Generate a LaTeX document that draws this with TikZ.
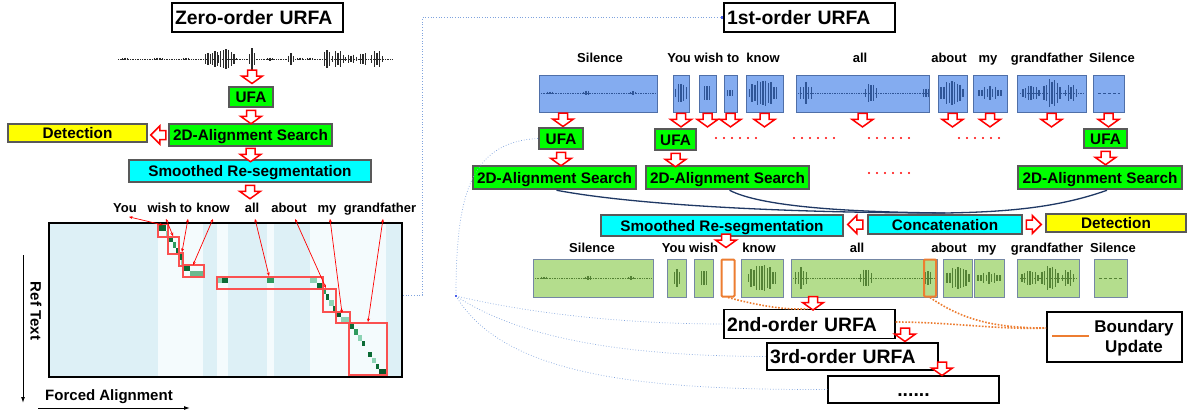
\documentclass[tikz,border=0pt]{standalone}
\usepackage{fontspec}
\setmainfont{Liberation Sans}
\usetikzlibrary{arrows.meta,calc}
\definecolor{boxgray}{HTML}{595959}
\definecolor{ufagreen}{HTML}{00FF00}
\definecolor{cyanbox}{HTML}{00FFFF}
\definecolor{yelbox}{HTML}{FFFF00}
\definecolor{wblue}{HTML}{84ACF0}
\definecolor{wblueb}{HTML}{4F6FA8}
\definecolor{wbluedark}{HTML}{2F5597}
\definecolor{wgreen}{HTML}{B4DD8D}
\definecolor{wgreenb}{HTML}{7486A4}
\definecolor{wgreendark}{HTML}{548235}
\definecolor{navy}{HTML}{1F3864}
\definecolor{dotblue}{HTML}{7FA3DE}
\definecolor{orng}{HTML}{ED7D31}
\definecolor{matbg}{HTML}{DDF0F6}
\definecolor{matlt}{HTML}{F4FBFD}
\definecolor{cdark}{HTML}{0B6B35}
\definecolor{cmed}{HTML}{2F9A5E}
\definecolor{clight}{HTML}{8CD3B4}
\definecolor{framered}{RGB}{250,80,80}
\definecolor{wavegray}{HTML}{2A2A2A}
% burst of vertical bars: #1 xc, #2 yc, #3 half width, #4 amplitude, #5 colour
\newcommand{\burst}[5]{%
  \pgfmathtruncatemacro{\nb}{max(1,round(#3/2.7))}%
  \foreach \k in {-\nb,...,\nb}{%
    \pgfmathsetmacro{\hh}{#4*(1-0.7*(\k*\k)/((\nb+0.5)*(\nb+0.5)))*(0.55+0.45*abs(sin(\k*83+#1)))}%
    \draw[#5, line width=1.5pt] ({#1+\k*2.7},{#2-\hh}) -- ({#1+\k*2.7},{#2+\hh});
  }}
\newcommand{\wline}[4]{\draw[#4, densely dotted, line width=0.7pt] (#1,#3) -- (#2,#3);}
\begin{document}
\begin{tikzpicture}[x=1pt, y=-1pt,
  proc/.style={draw=boxgray, line width=2.5pt, inner sep=0pt, text height=11pt, text depth=0pt,
    font=\fontsize{15.3}{17}\selectfont\bfseries},
  greenp/.style={proc, fill=ufagreen},
  cyanp/.style={proc, fill=cyanbox},
  yelp/.style={proc, fill=yelbox},
  titlebox/.style={draw=black, line width=1.3pt, fill=white, inner ysep=0pt, inner xsep=3pt,
    minimum height=29pt, text width=165pt, align=left, text height=14pt, text depth=0pt,
    font=\fontsize{19.4}{22}\selectfont\bfseries},
  wlabel/.style={inner sep=0pt, text height=9.3pt, text depth=0pt, font=\fontsize{13}{15}\selectfont\bfseries},
  axlabel/.style={inner sep=0pt, text height=10.8pt, text depth=0pt, font=\fontsize{15}{17}\selectfont\bfseries},
  wbox/.style={draw=wblueb, fill=wblue, line width=0.8pt, inner sep=0pt},
  gbox/.style={draw=wgreenb, fill=wgreen, line width=0.8pt, inner sep=0pt},
  obox/.style={draw=orng, line width=2pt, rounded corners=1pt, inner sep=0pt},
  harrow/.style={draw=red, line width=1.5pt, fill=white, line join=miter},
  darr/.pic={\draw[harrow] (-4.5,0) -- (4.5,0) -- (4.5,6) -- (10.5,6) -- (0,13.5) -- (-10.5,6) -- (-4.5,6) -- cycle;},
  larr/.pic={\draw[harrow] (0,-4.5) -- (0,4.5) -- (-6,4.5) -- (-6,9) -- (-15,0) -- (-6,-9) -- (-6,-4.5) -- cycle;},
  rarr/.pic={\draw[harrow] (0,-4.5) -- (0,4.5) -- (6,4.5) -- (6,9) -- (15,0) -- (6,-9) -- (6,-4.5) -- cycle;},
  navyc/.style={draw=navy, line width=1.3pt},
  bluedot/.style={draw=dotblue, line width=0.7pt, dotted},
  orangedot/.style={draw=orng, line width=1.6pt, dash pattern=on 1.6pt off 1.6pt},
  reddots/.style={draw=red, line width=2.2pt, line cap=round, dash pattern=on 0pt off 8pt},
  warr/.style={draw=red, line width=0.7pt, {Stealth[length=3.5pt,width=3pt]}-{Stealth[length=3.5pt,width=3pt]}},
  cellframe/.style={draw=framered, line width=1.1pt}
]
\useasboundingbox (0,0) rectangle (1189,415);
\fill[white] (0,0) rectangle (1189,415);

% ================= LEFT : zero-order =================
\node[titlebox] (t0) at (257.5,17.5) {Zero-order URFA};

% waveform
\wline{118}{393}{59}{wavegray}
\foreach \xx in {125,157,160,186,234,270,300,310}{\burst{\xx}{59}{1}{1.5}{wavegray}}
\burst{208}{59}{4}{8}{wavegray}
\burst{215}{59}{3}{10}{wavegray}
\burst{226}{59}{8}{11}{wavegray}
\burst{252}{59}{2}{11}{wavegray}
\burst{291}{59}{4}{6}{wavegray}
\burst{327}{59}{4}{11}{wavegray}
\burst{338}{59}{6}{9}{wavegray}
\burst{351}{59}{6}{5}{wavegray}
\burst{363}{59}{4}{8}{wavegray}
\burst{377}{59}{5}{9}{wavegray}

\node[greenp, minimum width=44pt, minimum height=20pt] (ufa0) at (251,97) {UFA};
\node[greenp, minimum width=163pt, minimum height=22pt] (al0) at (250.5,135) {2D-Alignment Search};
\node[yelp, minimum width=139pt, minimum height=18pt] (det0) at (77.5,133) {Detection};
\node[cyanp, minimum width=242pt, minimum height=22pt] (sm0) at (250,171) {Smoothed Re-segmentation};

\pic at (252,70) {darr};
\pic at ([yshift=-2pt]ufa0.south) {darr};
\pic at ([yshift=-1pt]al0.south) {darr};
\pic at ([yshift=-2pt]sm0.south) {darr};
\pic at ([xshift=-2pt]al0.west) {larr};

% matrix
\fill[matbg] (49,223) rectangle (402,377);
\fill[matlt] (158,224) rectangle (203,376);
\fill[matlt] (217,224) rectangle (228,376);
\fill[matlt] (267,224) rectangle (274,376);
\fill[matlt] (310,224) rectangle (386,376);
% cells
\fill[cdark]  (159,225) rectangle (166,231);
\fill[clight] (166,231) rectangle (168,236);
\fill[cdark]  (168,237) rectangle (173,242);
\fill[cmed]   (173,242) rectangle (176,248);
\fill[cdark]  (176,248) rectangle (179,253);
\fill[cdark]  (179,253) rectangle (182,260);
\fill[clight] (181,260) rectangle (183,265);
\fill[cdark]  (183,265) rectangle (190,271);
\fill[cmed!70!white] (190,271) rectangle (203,277);
\fill[clight] (217,277) rectangle (222,283);
\fill[cdark]  (222,277) rectangle (228,283);
\fill[cmed]   (267,277) rectangle (274,283);
\fill[clight] (310,277) rectangle (317,283);
\fill[cdark]  (317,283) rectangle (323,289);
\fill[cmed]   (323,289) rectangle (326,294);
\fill[cdark]  (326,294) rectangle (329,300);
\fill[clight] (329,300) rectangle (334,306);
\fill[cdark]  (333,306) rectangle (336,311);
\fill[cdark!80!black] (336,312) rectangle (341,317);
\fill[clight] (341,317) rectangle (349,322);
\fill[cdark]  (350,324) rectangle (354,329);
\fill[cmed]   (354,329) rectangle (358,335);
\fill[clight] (358,335) rectangle (362,341);
\fill[cdark]  (362,341) rectangle (365,346);
\fill[cdark]  (368,352) rectangle (372,357);
\fill[clight] (372,358) rectangle (376,363);
\fill[cdark]  (376,364) rectangle (379,369);
\fill[cdark!80!black] (379,369) rectangle (387,375);
% red frames
\draw[cellframe] (158,224) rectangle (168,237);
\draw[cellframe] (168,237) rectangle (179,254);
\draw[cellframe] (179,253) rectangle (183,266);
\draw[cellframe] (183,265) rectangle (204,277);
\draw[cellframe] (217,277) rectangle (323,289);
\draw[cellframe] (323,289) rectangle (336,312);
\draw[cellframe] (336,312) rectangle (350,323);
\draw[cellframe] (349,323) rectangle (387,375);
\draw[line width=2.2pt] (49,223) rectangle (402,377);
\coordinate (matE) at (403,295);

% word labels and pointers
\node[wlabel] (lYou) at (125,208) {You};
\node[wlabel] (lWish) at (162,208) {wish};
\node[wlabel] (lTo) at (186,208) {to};
\node[wlabel] (lKnow) at (213,208) {know};
\node[wlabel] (lAll) at (252,208) {all};
\node[wlabel] (lAbout) at (289,208) {about};
\node[wlabel] (lMy) at (327,208) {my};
\node[wlabel] (lGrand) at (380,208) {grandfather};
\coordinate (cY) at (163,225);
\coordinate (cW) at (173,236);
\coordinate (cT) at (182,252);
\coordinate (cK) at (193,265);
\coordinate (cA) at (269,276);
\coordinate (cAb) at (326,288);
\coordinate (cM) at (342,313);
\coordinate (cG) at (368,322);
\draw[warr] ([shift={(4,4)}]lYou.south) -- (cY);
\draw[warr] ([shift={(4,6)}]lWish.south) -- (cW);
\draw[warr] ([shift={(2,6)}]lTo.south) -- (cT);
\draw[warr] ([shift={(0,6)}]lKnow.south) -- (cK);
\draw[warr] ([shift={(3,6)}]lAll.south) -- (cA);
\draw[warr] ([shift={(6,6)}]lAbout.south) -- (cAb);
\draw[warr] ([shift={(3,6)}]lMy.south) -- (cM);
\draw[warr] ([shift={(3,6)}]lGrand.south) -- (cG);

% axes
\coordinate (ax0) at (23,255);
\coordinate (ax1) at (23,403);
\coordinate (ay0) at (38,408);
\coordinate (ay1) at (190,408);
\draw[line width=1pt, -{Latex[length=6pt,width=4pt]}] (ax0) -- (ax1);
\draw[line width=1pt, -{Latex[length=6pt,width=4pt]}] (ay0) -- (ay1);
\node[axlabel, rotate=-90] (reft) at (36,311) {Ref Text};
\node[axlabel] (fal) at (109,395) {Forced Alignment};

% ================= RIGHT : first-order =================
\node[titlebox] (t1) at (809.5,17.5) {1st-order URFA};

% blue word boxes
\node[wbox, minimum width=118pt, minimum height=37pt] (bSil) at (598,93.5) {};
\node[wbox, minimum width=16pt, minimum height=37pt] (bYou) at (681,93.5) {};
\node[wbox, minimum width=17pt, minimum height=37pt] (bWish) at (707.5,93.5) {};
\node[wbox, minimum width=13pt, minimum height=37pt] (bTo) at (730.5,93.5) {};
\node[wbox, minimum width=37pt, minimum height=37pt] (bKnow) at (764.5,93.5) {};
\node[wbox, minimum width=133pt, minimum height=37pt] (bAll) at (862.5,93.5) {};
\node[wbox, minimum width=29pt, minimum height=37pt] (bAbout) at (952.5,93.5) {};
\node[wbox, minimum width=34pt, minimum height=37pt] (bMy) at (990,93.5) {};
\node[wbox, minimum width=69pt, minimum height=37pt] (bGrand) at (1051.5,93.5) {};
\node[wbox, minimum width=31pt, minimum height=37pt] (bSil2) at (1108.5,93.5) {};
\wline{541}{655}{93}{wbluedark}
\burst{550}{93}{1}{2}{wbluedark}
\burst{586}{93}{4}{2.5}{wbluedark}
\burst{633}{93}{1}{2}{wbluedark}
\burst{681}{93}{5}{11}{wbluedark}
\burst{707}{93}{4}{10}{wbluedark}
\burst{730}{93}{1}{4}{wbluedark}
\burst{763}{93}{13}{14}{wbluedark}
\wline{798}{928}{93}{wbluedark}
\burst{806}{93}{6}{11}{wbluedark}
\burst{871}{93}{6}{10}{wbluedark}
\burst{926}{93}{1}{6}{wbluedark}
\burst{952}{93}{11}{13}{wbluedark}
\burst{990}{93}{11}{7}{wbluedark}
\wline{1020}{1083}{93}{wbluedark}
\burst{1031}{93}{7}{8}{wbluedark}
\burst{1052}{93}{8}{15}{wbluedark}
\burst{1071}{93}{6}{9}{wbluedark}
\draw[wbluedark, line width=0.8pt, dash pattern=on 3pt off 2pt] (1098,93) -- (1120,93);

\node[wlabel] (lbSil) at (600,58) {Silence};
\node[wlabel] (lbYWTK) at (723.5,58) {You wish to\hspace{3.6pt} know};
\node[wlabel] (lbAll) at (860,58) {all};
\node[wlabel] (lbAbout) at (949,58) {about};
\node[wlabel] (lbMy) at (988,58) {my};
\node[wlabel] (lbGrand) at (1047,58) {grandfather};
\node[wlabel] (lbSil2) at (1112,58) {Silence};

\pic at (563,113) {darr};
\foreach \b in {bYou,bWish,bTo,bKnow,bAll,bAbout,bMy,bGrand,bSil2}{\pic at ([yshift=-1pt]\b.south) {darr};}

\node[greenp, minimum width=44pt, minimum height=21pt] (ufa1a) at (561,138.5) {UFA};
\node[greenp, minimum width=41pt, minimum height=21pt] (ufa1b) at (675.5,139.5) {UFA};
\node[greenp, minimum width=43pt, minimum height=19pt] (ufa1c) at (1105.5,138.5) {UFA};
\node[greenp, minimum width=163pt, minimum height=23pt] (al1a) at (554.5,177.5) {2D-Alignment Search};
\node[greenp, minimum width=163pt, minimum height=23pt] (al1b) at (727.5,177.5) {2D-Alignment Search};
\node[greenp, minimum width=164pt, minimum height=23pt] (al1c) at (1100,177.5) {2D-Alignment Search};
\pic at ([yshift=-2pt]ufa1a.south) {darr};
\pic at ([yshift=-2pt]ufa1b.south) {darr};
\pic at ([yshift=-2pt]ufa1c.south) {darr};

\draw[reddots] (716,138) -- (757,138);
\draw[reddots] (794,138) -- (835,138);
\draw[reddots] (869,138) -- (910,138);
\draw[reddots] (959,138) -- (1000,138);
\draw[reddots] (869,173) -- (910,173);

\node[cyanp, minimum width=242pt, minimum height=21pt] (sm1) at (722,225.5) {Smoothed Re-segmentation};
\node[cyanp, minimum width=154pt, minimum height=19pt] (concat) at (945,224.5) {Concatenation};
\node[yelp, minimum width=140pt, minimum height=18pt] (det1) at (1116,223) {Detection};

\draw[navyc] ([xshift=2pt]al1a.south) .. controls (640,206) and (800,213) .. (945,213);
\draw[navyc] ([xshift=2pt]al1b.south) .. controls (760,206) and (840,212) .. (945,213);
\draw[navyc] ([xshift=7pt]al1c.south) .. controls (1060,207) and (1010,212) .. (945,213);

\pic at ([xshift=-4pt]concat.west) {larr};
\pic at ([xshift=3pt]concat.east) {rarr};
\pic at (726,234) {darr};

% green word boxes
\node[gbox, minimum width=120pt, minimum height=38pt] (gSil) at (593,278) {};
\node[gbox, minimum width=19pt, minimum height=38pt] (gYou) at (676.5,278) {};
\node[gbox, minimum width=19pt, minimum height=38pt] (gWish) at (703.5,278) {};
\node[obox, fill=white, minimum width=13pt, minimum height=37pt] (oB1) at (728,278) {};
\node[gbox, minimum width=42pt, minimum height=38pt] (gKnow) at (762,278) {};
\node[gbox, minimum width=146pt, minimum height=38pt] (gAll) at (864,278) {};
\node[gbox, minimum width=29pt, minimum height=38pt] (gAbout) at (957.5,278) {};
\node[gbox, minimum width=30pt, minimum height=38pt] (gMy) at (989,278) {};
\node[gbox, minimum width=62pt, minimum height=38pt] (gGrand) at (1048,278) {};
\node[gbox, minimum width=33pt, minimum height=38pt] (gSil2) at (1110.5,278) {};
\wline{535}{651}{278}{wgreendark}
\burst{544}{278}{1}{2}{wgreendark}
\burst{588}{278}{4}{2.5}{wgreendark}
\burst{631}{278}{1}{2}{wgreendark}
\burst{677}{278}{4}{10}{wgreendark}
\burst{704}{278}{3}{10}{wgreendark}
\burst{762}{278}{14}{14}{wgreendark}
\wline{793}{935}{278}{wgreendark}
\burst{801}{278}{6}{11}{wgreendark}
\burst{866}{278}{6}{10}{wgreendark}
\burst{928}{278}{3}{9}{wgreendark}
\burst{958}{278}{10}{12}{wgreendark}
\burst{989}{278}{10}{6}{wgreendark}
\wline{1020}{1077}{278}{wgreendark}
\burst{1030}{278}{7}{8}{wgreendark}
\burst{1050}{278}{8}{13}{wgreendark}
\burst{1068}{278}{6}{9}{wgreendark}
\draw[wgreendark, line width=0.8pt, dash pattern=on 3pt off 2pt] (1099,278) -- (1122,278);
\node[obox, minimum width=12pt, minimum height=37pt] (oB2) at (930,278) {};

\node[wlabel] (lgSil) at (592,248) {Silence};
\node[wlabel] (lgYW) at (690,248) {You wish};
\node[wlabel] (lgKnow) at (759,248) {know};
\node[wlabel] (lgAll) at (857,248) {all};
\node[wlabel] (lgAbout) at (949,248) {about};
\node[wlabel] (lgMy) at (987,248) {my};
\node[wlabel] (lgGrand) at (1047,248) {grandfather};
\node[wlabel] (lgSil2) at (1113,248) {Silence};

% higher orders
\node[titlebox] (o2) at (809.5,324) {2nd-order URFA};
\node[titlebox, minimum height=27pt] (o3) at (852.5,356.5) {3rd-order URFA};
\node[titlebox, minimum height=27pt, align=center] (o4) at (913.5,389.5) {......};
\pic at (813,296.5) {darr};
\pic at (905,328) {darr};
\pic at (942,362) {darr};

% legend
\node[draw=black, line width=2pt, minimum width=135pt, minimum height=50pt, inner sep=0pt] (bu) at (1114.5,337) {};
\node[inner sep=0pt, align=center, font=\fontsize{17}{20}\selectfont\bfseries] (butxt) at (1134,338) {Boundary\\Update};
\coordinate (leg0) at (1052,336);
\coordinate (leg1) at (1089,336);
\draw[orng, line width=2.5pt] (leg0) -- (leg1);

% orange dotted links
\draw[orangedot] (oB1.south) .. controls (760,306) and (785,310) .. ([xshift=-2pt]o2.north);
\draw[orangedot] (oB2.south) .. controls (960,318) and (990,328) .. ([yshift=9pt]bu.west);
\draw[orangedot] ([yshift=2pt]o2.east) .. controls (950,322) and (1000,330) .. ([yshift=9pt]bu.west);

% blue dotted links
\coordinate (hub) at (456,296);
\draw[bluedot] (matE) -- (422,295) |- (t1.west);
\draw[bluedot] (hub) .. controls (456,200) and (468,142) .. (ufa1a.west);
\draw[bluedot] (hub) .. controls (550,318) and (650,324) .. (o2.west);
\draw[bluedot] (hub) .. controls (530,345) and (650,356) .. (o3.west);
\draw[bluedot] (hub) .. controls (505,378) and (650,390) .. (o4.west);
\fill[dotblue!60!blue] ([shift={(-1.3,-1.3)}]hub) rectangle ([shift={(1.3,1.3)}]hub);
\fill[dotblue!60!blue] ([shift={(-2.6,-1.3)}]t1.west) rectangle ([shift={(0,1.3)}]t1.west);
\end{tikzpicture}
\end{document}
